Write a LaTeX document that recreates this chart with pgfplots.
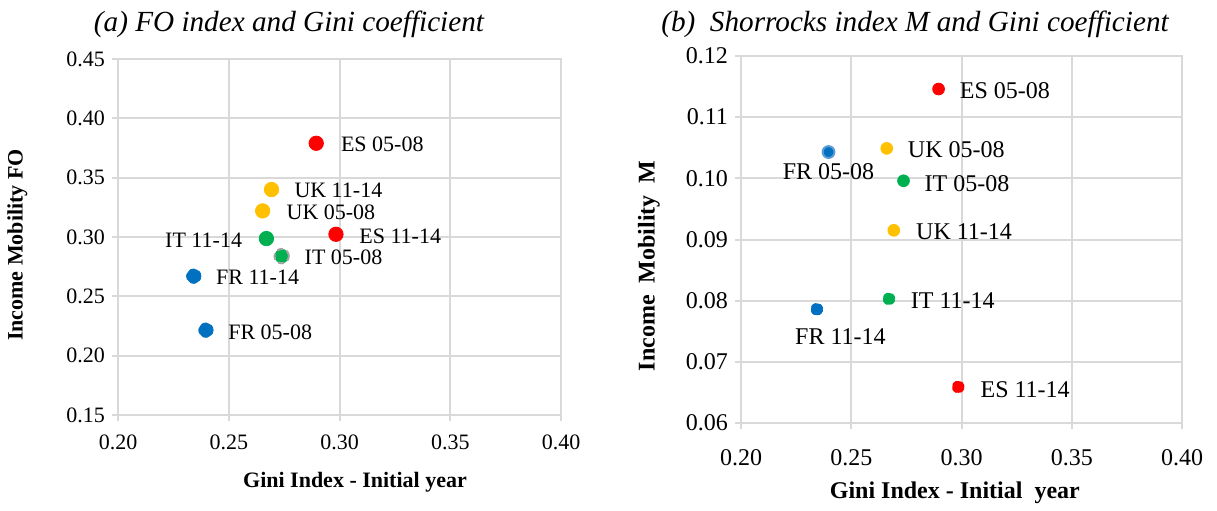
\documentclass[border=0pt]{standalone}
\usepackage{pgfplots}
\pgfplotsset{compat=1.18}
\usepackage{fontspec}
\setmainfont{Liberation Serif}
\definecolor{cRed}{RGB}{255,0,0}
\definecolor{cYel}{RGB}{255,192,0}
\definecolor{cGrn}{RGB}{0,176,80}
\definecolor{cBlu}{RGB}{0,112,192}
\definecolor{cBluL}{RGB}{91,155,213}
\definecolor{cGry}{RGB}{165,165,165}
\definecolor{gridgray}{RGB}{217,217,217}
\pgfplotsset{
  base/.style={
    scale only axis, clip=false,
    grid=major,
    major grid style={line width=1pt, draw=gridgray},
    axis line style={line width=1pt, draw=gridgray},
    tick style={line width=1pt, draw=gridgray},
    tick align=outside, major tick length=3pt,
    xtick pos=bottom, ytick pos=left,
    xmin=0.2, xmax=0.4,
    xtick={0.2,0.25,0.3,0.35,0.4},
    /pgf/number format/fixed, /pgf/number format/fixed zerofill,
    /pgf/number format/precision=2, /pgf/number format/assume math mode=true,
    xticklabel={\pgfmathprintnumber{\tick}},
    yticklabel={\pgfmathprintnumber{\tick}},
  },
  pt/.style n args={6}{only marks, mark=*, mark options={fill=#1, draw=#1},
    nodes near coords={#2},
    every node near coord/.append style={anchor=#3, xshift=#4, yshift=#5},
  },
}
\begin{document}
\begin{tikzpicture}
\path[use as bounding box] (0,0) rectangle (608.5pt,-255pt);
% ---------------- left panel
\begin{axis}[base,
  at={(59pt,-207.5pt)}, anchor=south west,
  width=221.5pt, height=178pt,
  ymin=0.15, ymax=0.45,
  ytick={0.15,0.2,0.25,0.3,0.35,0.4,0.45},
  ticklabel style={font=\fontsize{11}{11}\selectfont},
  xticklabel style={yshift=-3.5pt},
  every node near coord/.append style={inner sep=0pt, text=black, font=\fontsize{11}{11}\selectfont},
  mark size=3.6pt,
  title={\itshape (a) FO index and Gini coefficient},
  title style={at={(axis description cs:0.386,1.0644)}, anchor=center, font=\fontsize{14.6}{14.6}\selectfont},
  xlabel={Gini Index - Initial year},
  xlabel style={at={(axis description cs:0.535,-0.188)}, anchor=center, font=\bfseries\fontsize{11}{11}\selectfont},
  ylabel={Income Mobility FO},
  ylabel style={at={(axis description cs:-0.227,0.4775)}, anchor=center, rotate=0, font=\bfseries\fontsize{11}{11}\selectfont},
]
\addplot+[pt={cRed}{ES 05-08}{west}{12.2pt}{-0.6pt}{}] coordinates {(0.2895,0.379)};
\addplot+[pt={cYel}{UK 11-14}{west}{11.3pt}{-0.6pt}{}] coordinates {(0.2693,0.340)};
\addplot+[pt={cYel}{UK 05-08}{west}{11.8pt}{-0.6pt}{}] coordinates {(0.2653,0.322)};
\addplot+[pt={cRed}{ES 11-14}{west}{11.5pt}{-0.8pt}{}] coordinates {(0.2984,0.3023)};
\addplot+[pt={cGrn}{IT 11-14}{east}{-12pt}{-1pt}{}] coordinates {(0.2670,0.2987)};
\addplot+[pt={cGrn}{IT 05-08}{west}{11pt}{-0.6pt}{}, mark options={fill=cGrn, draw=cGry, line width=1pt}] coordinates {(0.2739,0.2839)};
\addplot+[pt={cBlu}{FR 11-14}{west}{11pt}{-0.5pt}{}] coordinates {(0.2342,0.2670)};
\addplot+[pt={cBlu}{FR 05-08}{west}{11pt}{-1pt}{}] coordinates {(0.2397,0.2215)};
\end{axis}
% ---------------- right panel
\begin{axis}[base,
  at={(370.5pt,-211.5pt)}, anchor=south west,
  width=220.5pt, height=183.5pt,
  ymin=0.06, ymax=0.12,
  ytick={0.06,0.07,0.08,0.09,0.1,0.11,0.12},
  ticklabel style={font=\fontsize{12}{12}\selectfont},
  xticklabel style={yshift=-6.5pt},
  every node near coord/.append style={inner sep=0pt, text=black, font=\fontsize{12}{12}\selectfont},
  mark size=2.95pt,
  title={\itshape (b)\ \ Shorrocks index M and Gini coefficient},
  title style={at={(axis description cs:0.3946,1.0545)}, anchor=center, font=\fontsize{14.6}{14.6}\selectfont},
  xlabel={Gini Index - Initial\ \ year},
  xlabel style={at={(axis description cs:0.485,-0.191)}, anchor=center, font=\bfseries\fontsize{12}{12}\selectfont},
  ylabel={Income\ \ Mobility\ \ M},
  ylabel style={at={(axis description cs:-0.2086,0.428)}, anchor=center, rotate=0, font=\bfseries\fontsize{12}{12}\selectfont},
]
\addplot+[pt={cRed}{ES 05-08}{west}{10.5pt}{-0.7pt}{}] coordinates {(0.2896,0.1146)};
\addplot+[pt={cBlu}{FR 05-08}{center}{0pt}{-10pt}{}, mark options={fill=cBlu, draw=cBluL, line width=1pt}] coordinates {(0.2397,0.1043)};
\addplot+[pt={cYel}{UK 05-08}{west}{10.4pt}{-0.5pt}{}] coordinates {(0.2661,0.1049)};
\addplot+[pt={cGrn}{IT 05-08}{west}{10.4pt}{-1.3pt}{}] coordinates {(0.2737,0.0996)};
\addplot+[pt={cYel}{UK 11-14}{west}{11pt}{-0.7pt}{}] coordinates {(0.2693,0.0915)};
\addplot+[pt={cGrn}{IT 11-14}{west}{10.8pt}{-0.8pt}{}] coordinates {(0.2671,0.0803)};
\addplot+[pt={cBlu}{FR 11-14}{center}{11.8pt}{-13.7pt}{}] coordinates {(0.2344,0.0786)};
\addplot+[pt={cRed}{ES 11-14}{west}{11pt}{-1.5pt}{}] coordinates {(0.2985,0.0659)};
\end{axis}
\end{tikzpicture}
\end{document}
